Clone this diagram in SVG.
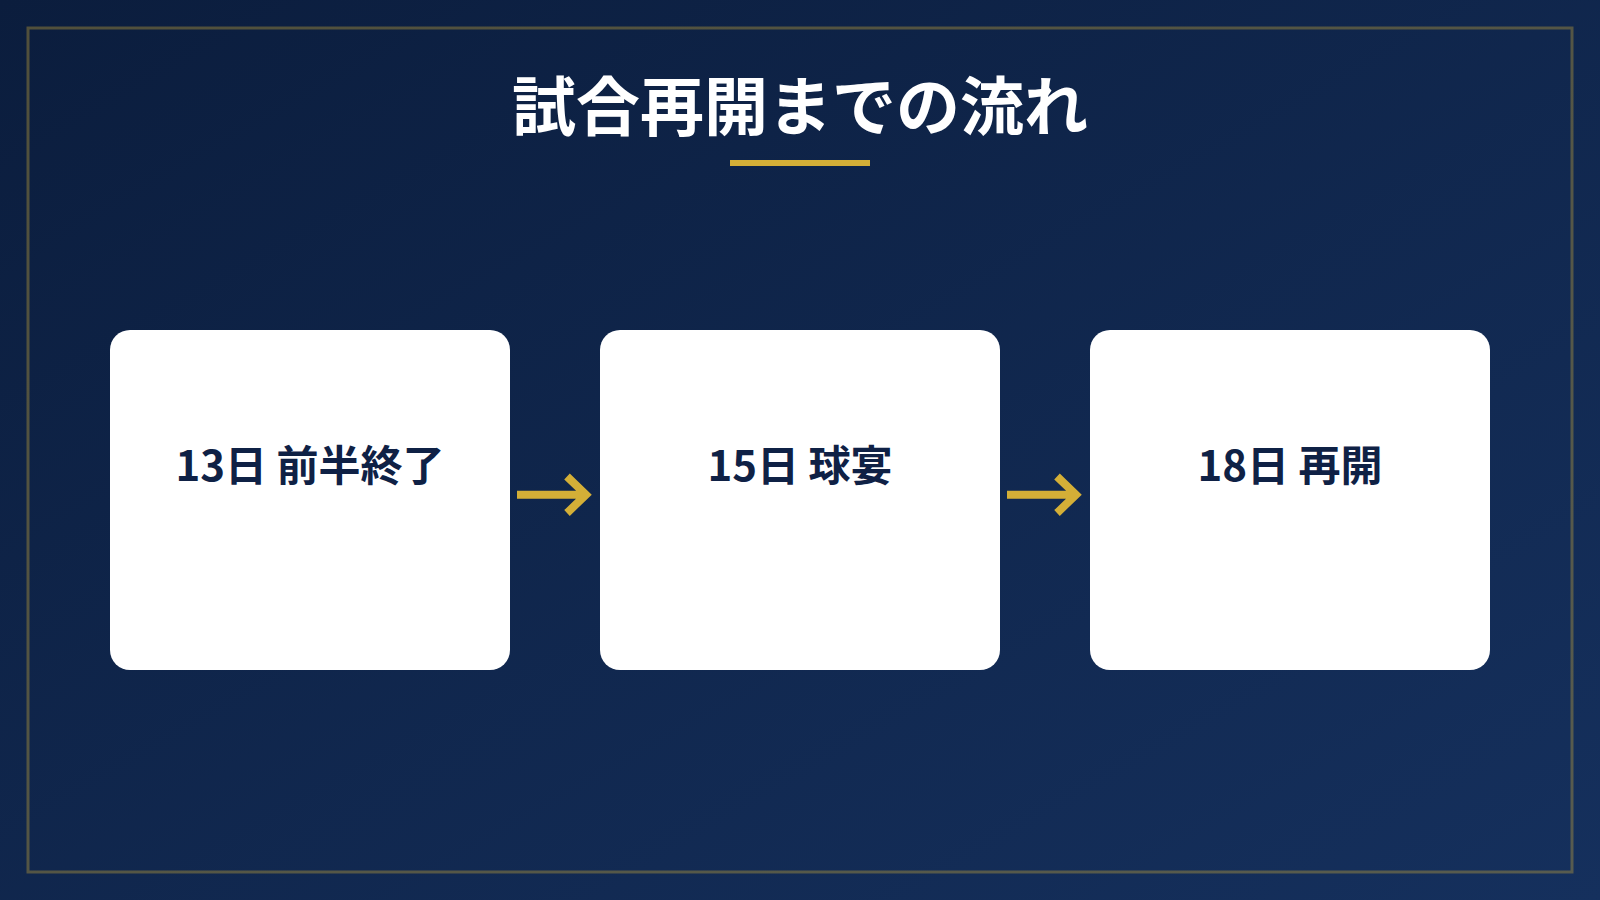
<svg xmlns="http://www.w3.org/2000/svg" width="1600" height="900" viewBox="0 0 1600 900">
  <defs>
    <linearGradient id="bg" x1="0" y1="0" x2="1" y2="1">
      <stop offset="0" stop-color="#0b1d3d"/>
      <stop offset="1" stop-color="#15305d"/>
    </linearGradient>
    <style>
      .title { font-family: "Noto Sans CJK JP", "Noto Sans", sans-serif; font-weight: 700; font-size: 64px; fill: #ffffff; }
      .box { fill: #ffffff; }
      .label { font-family: "Noto Sans CJK JP", "Noto Sans", sans-serif; font-weight: 700; font-size: 42px; fill: #0f2145; }
      .arrow { fill: none; stroke: #d4af37; stroke-width: 8; stroke-linejoin: miter; stroke-linecap: butt; }
    </style>
  </defs>
  <rect x="0" y="0" width="1600" height="900" fill="url(#bg)"/>
  <rect x="28" y="28" width="1544" height="844" fill="none" stroke="#d4af37" stroke-opacity="0.35" stroke-width="3"/>
  <g id="title">
    <text class="title" x="800" y="130" text-anchor="middle">試合再開までの流れ</text>
    <rect x="730" y="160" width="140" height="6" fill="#d4af37"/>
  </g>
  <g id="node1">
    <rect class="box" x="110" y="330" width="400" height="340" rx="20"/>
    <text class="label" x="310" y="481" text-anchor="middle">13日 前半終了</text>
  </g>
  <g id="node2">
    <rect class="box" x="600" y="330" width="400" height="340" rx="20"/>
    <text class="label" x="800" y="481" text-anchor="middle">15日 球宴</text>
  </g>
  <g id="node3">
    <rect class="box" x="1090" y="330" width="400" height="340" rx="20"/>
    <text class="label" x="1290" y="481" text-anchor="middle">18日 再開</text>
  </g>
  <g id="connectors">
    <path class="arrow" d="M517 494.7 H585 M567 476.5 L586 494.7 L567 513"/>
    <path class="arrow" d="M1007 494.7 H1075 M1057 476.5 L1076 494.7 L1057 513"/>
  </g>
</svg>
